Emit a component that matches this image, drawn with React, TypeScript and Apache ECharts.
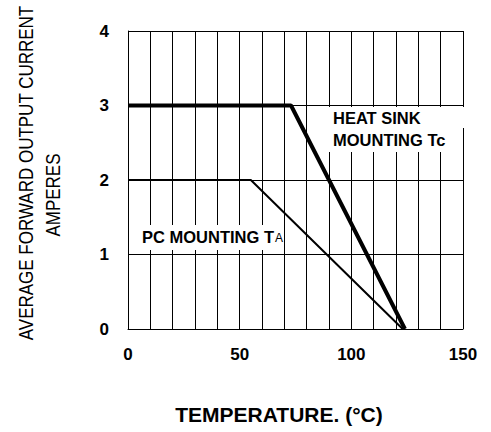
import React, { useEffect, useRef } from "react";
import * as echarts from "echarts";

const heatSinkCurve: [number, number][] = [
  [0, 3],
  [73, 3],
  [124, 0],
];
const pcMountingCurve: [number, number][] = [
  [0, 2],
  [55, 2],
  [123, 0],
];
const xLabelValues = [0, 50, 100, 150];
const yTitleLine1 = "AVERAGE FORWARD OUTPUT CURRENT";
const yTitleLine2 = "AMPERES";
const xTitle = "TEMPERATURE. (°C)";
const heatSinkLabel = ["HEAT SINK", "MOUNTING Tc"];
const pcLabelMain = "PC MOUNTING T";
const pcLabelSub = "A";

const FONT = "'Liberation Sans', Arial, sans-serif";

export default function App() {
  const ref = useRef<HTMLDivElement>(null);
  useEffect(() => {
    if (!ref.current) return;
    const chart = echarts.init(ref.current, undefined, { renderer: "svg" });
    chart.setOption({
      animation: false,
      backgroundColor: "#ffffff",
      grid: { left: 128, right: 28, top: 31, bottom: 103, containLabel: false },
      xAxis: {
        type: "value",
        min: 0,
        max: 150,
        interval: 10,
        z: 0,
        axisLine: { show: true, lineStyle: { color: "#000", width: 1 } },
        axisTick: { show: false },
        splitLine: { show: true, lineStyle: { color: "#000", width: 1 } },
        axisLabel: {
          margin: 17,
          color: "#000",
          fontFamily: FONT,
          fontWeight: "bold",
          fontSize: 17,
          showMinLabel: true,
          showMaxLabel: true,
          formatter: (v: number) => (xLabelValues.includes(v) ? String(v) : ""),
        },
      },
      yAxis: {
        type: "value",
        min: 0,
        max: 4,
        interval: 1,
        z: 0,
        axisLine: { show: true, lineStyle: { color: "#000", width: 1 } },
        axisTick: { show: false },
        splitLine: { show: true, lineStyle: { color: "#000", width: 1 } },
        axisLabel: {
          margin: 19,
          color: "#000",
          fontFamily: FONT,
          fontWeight: "bold",
          fontSize: 17,
        },
      },
      series: [
        {
          type: "line",
          name: "Heat sink mounting Tc",
          data: heatSinkCurve,
          symbol: "none",
          z: 5,
          lineStyle: { color: "#000", width: 4 },
        },
        {
          type: "line",
          name: "PC mounting TA",
          data: pcMountingCurve,
          symbol: "none",
          z: 5,
          lineStyle: { color: "#000", width: 2 },
        },
      ],
      graphic: [
        { type: "rect", z: 1, shape: { x: 312, y: 107, width: 149, height: 45 }, style: { fill: "#fff" } },
        { type: "rect", z: 1, shape: { x: 460, y: 107, width: 5, height: 21 }, style: { fill: "#fff" } },
        { type: "rect", z: 1, shape: { x: 135, y: 225, width: 146, height: 25 }, style: { fill: "#fff" } },
        {
          type: "text",
          z: 6,
          x: 333,
          y: 126,
          style: {
            text: heatSinkLabel[0],
            fill: "#000",
            font: `bold 16.5px ${FONT}`,
            verticalAlign: "bottom",
          },
        },
        {
          type: "text",
          z: 6,
          x: 333,
          y: 148,
          style: {
            text: heatSinkLabel[1],
            fill: "#000",
            font: `bold 16.5px ${FONT}`,
            verticalAlign: "bottom",
          },
        },
        {
          type: "text",
          z: 6,
          x: 142,
          y: 245,
          style: {
            text: `{b|${pcLabelMain}}{s|${pcLabelSub}}`,
            verticalAlign: "bottom",
            rich: {
              b: { fill: "#000", fontFamily: FONT, fontWeight: "bold", fontSize: 16.5 },
              s: { fill: "#000", fontFamily: FONT, fontWeight: "normal", fontSize: 12, padding: [3, 0, 0, 1] },
            },
          },
        },
        {
          type: "text",
          z: 6,
          x: 26,
          y: 173,
          rotation: Math.PI / 2,
          scaleY: 1.2,
          style: {
            text: yTitleLine1,
            fill: "#000",
            font: `17px ${FONT}`,
            align: "center",
            verticalAlign: "middle",
          },
        },
        {
          type: "text",
          z: 6,
          x: 53,
          y: 195,
          rotation: Math.PI / 2,
          scaleY: 1.2,
          style: {
            text: yTitleLine2,
            fill: "#000",
            font: `17px ${FONT}`,
            align: "center",
            verticalAlign: "middle",
          },
        },
        {
          type: "text",
          z: 6,
          x: 279,
          y: 414,
          style: {
            text: xTitle,
            fill: "#000",
            font: `bold 21px ${FONT}`,
            align: "center",
            verticalAlign: "middle",
          },
        },
      ],
    });
    return () => chart.dispose();
  }, []);
  return (
    <div
      ref={ref}
      style={{ position: "fixed", left: 0, top: 0, width: 491, height: 432, background: "#fff" }}
    />
  );
}
